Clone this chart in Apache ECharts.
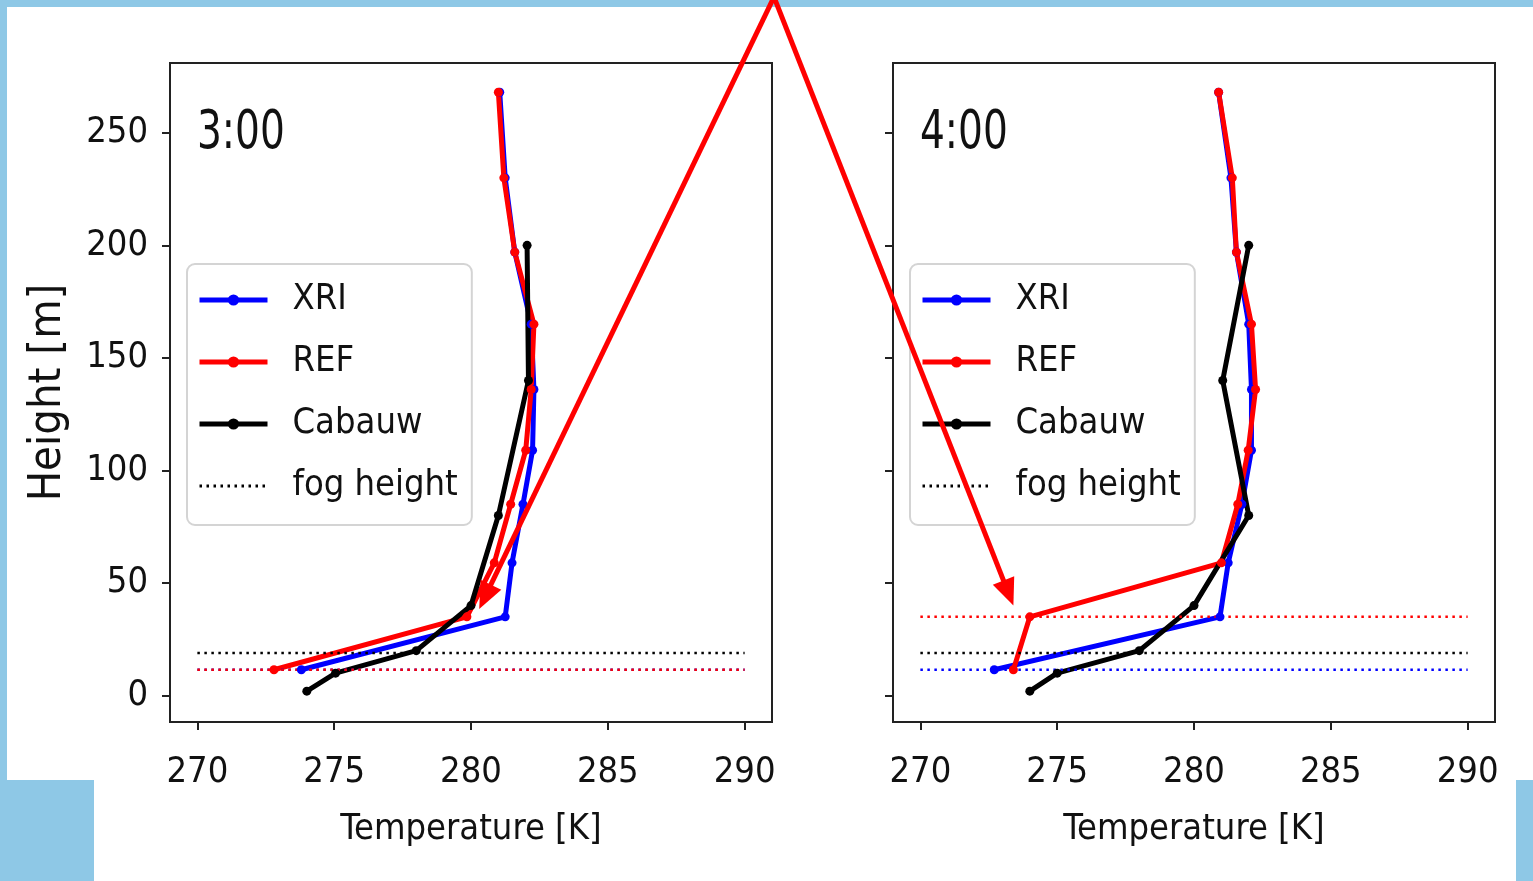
<!DOCTYPE html>
<html>
<head>
<meta charset="utf-8">
<script src="https://cdn.jsdelivr.net/npm/echarts@6/dist/echarts.min.js"></script>
<style>
  html, body { margin: 0; padding: 0; background: #fff; }
  #chart { width: 1533px; height: 881px; }
</style>
</head>
<body>
<div id="chart"></div>
<script>
// model levels (m) and tower levels (m)
var modelHeights = [268, 230, 197, 165, 136, 109, 85, 59, 35, 11.5];
var towerHeights = [200, 140, 80, 40, 20, 10, 2];

// 3:00
var xri3 = [281.05, 281.25, 281.6, 282.2, 282.3, 282.25, 281.9, 281.5, 281.25, 273.8];
var ref3 = [281.0, 281.2, 281.6, 282.3, 282.2, 282.0, 281.45, 280.85, 279.85, 272.8];
var cab3 = [282.05, 282.1, 281.0, 280.0, 278.0, 275.05, 274.0];
var fog3 = { xri: 11.5, ref: 11.5, cab: 19 };

// 4:00
var xri4 = [280.9, 281.35, 281.55, 282.0, 282.1, 282.1, 281.75, 281.25, 280.95, 272.7];
var ref4 = [280.9, 281.4, 281.55, 282.1, 282.25, 281.98, 281.6, 281.0, 274.0, 273.4];
var cab4 = [282.0, 281.05, 282.0, 280.0, 278.0, 275.0, 274.0];
var fog4 = { xri: 11.5, ref: 35, cab: 19 };

var fogRange = [270, 290];
var panelTitles = ['3:00', '4:00'];
var xTicks = [270, 275, 280, 285, 290];
var yTicks = [0, 50, 100, 150, 200, 250];
// arrow tips, in data units of each panel
var arrowTips = [[280.3, 38.5], [273.4, 40]];

var FONT = "'DejaVu Sans Condensed', 'DejaVu Sans', sans-serif";
var BLUE = '#0000ff', RED = '#ff0000', BLACK = '#000000';

function pairs(xs, ys) {
  return xs.map(function (v, i) { return [v, ys[i]]; });
}

function profile(name, color, temps, heights, idx) {
  return {
    name: name, type: 'line', xAxisIndex: idx, yAxisIndex: idx,
    data: pairs(temps, heights),
    symbol: 'circle', symbolSize: 9,
    lineStyle: { color: color, width: 5 },
    itemStyle: { color: color },
    emphasis: { disabled: true },
    animation: false
  };
}

function fogLine(name, color, h, idx) {
  return {
    name: name, type: 'line', xAxisIndex: idx, yAxisIndex: idx,
    data: pairs(fogRange, [h, h]),
    symbol: 'none',
    lineStyle: { color: color, width: 2.5, type: [2.5, 4.5] },
    // transparent item colour keeps the dot out of the legend icon
    itemStyle: { color: 'rgba(0,0,0,0)' },
    emphasis: { disabled: true },
    animation: false, z: 3
  };
}

var panels = [
  { xri: xri3, ref: ref3, cab: cab3, fog: fog3 },
  { xri: xri4, ref: ref4, cab: cab4, fog: fog4 }
];

var series = [];
panels.forEach(function (p, i) {
  series.push(profile('XRI', BLUE, p.xri, modelHeights, i));
  series.push(profile('REF', RED, p.ref, modelHeights, i));
  series.push(profile('Cabauw', BLACK, p.cab, towerHeights, i));
  series.push(fogLine('fog height', BLACK, p.fog.cab, i));
  series.push(fogLine('fog height XRI', BLUE, p.fog.xri, i));
  series.push(fogLine('fog height REF', RED, p.fog.ref, i));
});

var gridLefts = [170, 893];

var chart = echarts.init(document.getElementById('chart'));

var option = {
  backgroundColor: 'transparent',
  textStyle: { fontFamily: FONT },
  legend: gridLefts.map(function (l) {
    return {
      data: ['XRI', 'REF', 'Cabauw', { name: 'fog height', lineStyle: { width: 3 } }],
      orient: 'vertical', left: l + 17, top: 264,
      itemWidth: 68, itemHeight: 14, itemGap: 22,
      padding: [16, 14, 19, 10],
      borderColor: '#d4d4d4', borderWidth: 2, borderRadius: 8,
      backgroundColor: 'rgba(255,255,255,0.8)',
      selectedMode: false,
      lineStyle: { width: 5 },
      textStyle: { fontFamily: FONT, fontSize: 36, lineHeight: 40, color: '#111', padding: [0, 0, 0, 20] }
    };
  }),
  grid: gridLefts.map(function (l) {
    return { left: l, top: 63, width: 602, height: 659, show: true,
             borderColor: '#222', borderWidth: 2, backgroundColor: 'transparent' };
  }),
  xAxis: gridLefts.map(function (l, i) {
    return {
      type: 'value', gridIndex: i, min: 269, max: 291,
      name: 'Temperature [K]', nameLocation: 'middle', nameGap: 90,
      nameTextStyle: { fontFamily: FONT, fontSize: 36, color: '#111' },
      axisLine: { show: true, onZero: false, lineStyle: { color: '#222', width: 2 } },
      axisTick: { show: true, length: 8, customValues: xTicks, lineStyle: { color: '#222', width: 2 } },
      axisLabel: { customValues: xTicks, margin: 33, fontFamily: FONT, fontSize: 36, color: '#111' },
      splitLine: { show: false }
    };
  }),
  yAxis: gridLefts.map(function (l, i) {
    return {
      type: 'value', gridIndex: i, min: -11.7, max: 281,
      name: i === 0 ? 'Height [m]' : '', nameLocation: 'middle', nameGap: 99,
      nameTextStyle: { fontFamily: FONT, fontSize: 45, color: '#111' },
      axisLine: { show: true, onZero: false, lineStyle: { color: '#222', width: 2 } },
      axisTick: { show: true, length: 8, customValues: yTicks, lineStyle: { color: '#222', width: 2 } },
      axisLabel: { show: i === 0, customValues: yTicks, margin: 22, fontFamily: FONT, fontSize: 36, color: '#111' },
      splitLine: { show: false }
    };
  }),
  series: series
};

chart.setOption(option);

// slide frame, panel titles, red arrows
var frameBlue = '#8ec8e6';
var graphics = [
  { type: 'rect', shape: { x: 0, y: 0, width: 1533, height: 7 }, style: { fill: frameBlue }, z: -10 },
  { type: 'rect', shape: { x: 0, y: 0, width: 7, height: 780 }, style: { fill: frameBlue }, z: -10 },
  { type: 'rect', shape: { x: 0, y: 780, width: 94, height: 101 }, style: { fill: frameBlue }, z: -10 },
  { type: 'rect', shape: { x: 1516, y: 780, width: 17, height: 101 }, style: { fill: frameBlue }, z: -10 }
];

panelTitles.forEach(function (t, i) {
  graphics.push({
    type: 'text', x: gridLefts[i] + 27, y: 108, scaleX: 0.82, z: 50,
    style: { text: t, fontFamily: FONT, fontSize: 53, fill: '#111' }
  });
});

var apex = [774, -3];
arrowTips.forEach(function (tip, i) {
  var p = chart.convertToPixel({ gridIndex: i }, tip);
  var dx = p[0] - apex[0], dy = p[1] - apex[1];
  var len = Math.sqrt(dx * dx + dy * dy);
  var ux = dx / len, uy = dy / len;
  var headL = 27, headW = 23;
  var bx = p[0] - ux * headL, by = p[1] - uy * headL;
  graphics.push({
    type: 'line', z: 100,
    shape: { x1: apex[0], y1: apex[1], x2: bx + ux * 2, y2: by + uy * 2 },
    style: { stroke: RED, lineWidth: 5 }
  });
  graphics.push({
    type: 'polygon', z: 100,
    shape: { points: [[p[0], p[1]], [bx - uy * headW / 2, by + ux * headW / 2], [bx + uy * headW / 2, by - ux * headW / 2]] },
    style: { fill: RED }
  });
});

chart.setOption({ graphic: graphics });
</script>
</body>
</html>
